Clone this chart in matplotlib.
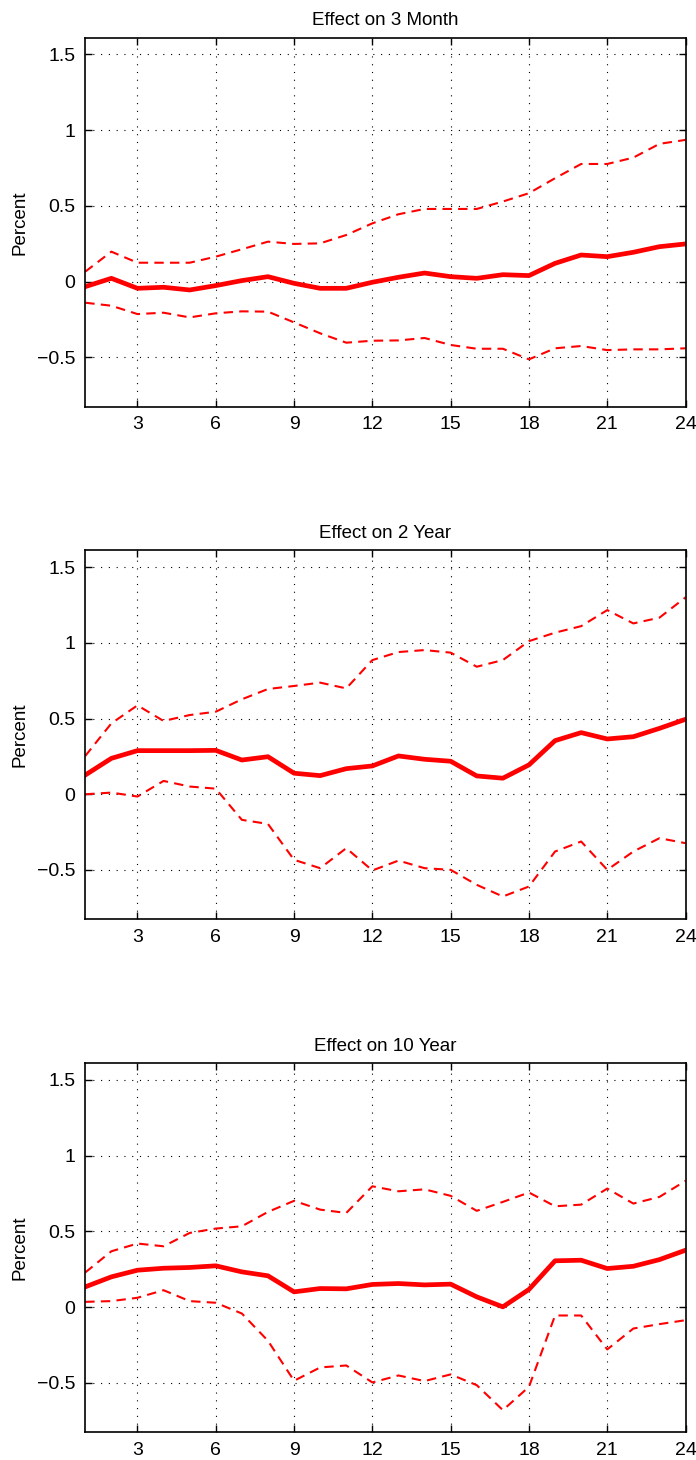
import matplotlib
matplotlib.use("Agg")
import matplotlib.pyplot as plt
import numpy as np

plt.rcParams['font.family'] = ['Liberation Sans', 'DejaVu Sans']

## data
horizon = np.arange(1, 25)

titles = ['Effect on 3 Month', 'Effect on 2 Year', 'Effect on 10 Year']

mid_3m = [-0.033, 0.022, -0.044, -0.037, -0.055, -0.026, 0.007, 0.033, -0.011, -0.044,
          -0.044, -0.004, 0.029, 0.057, 0.033, 0.022, 0.046, 0.040, 0.121, 0.176,
          0.165, 0.194, 0.231, 0.249]
up_3m = [0.066, 0.198, 0.125, 0.125, 0.125, 0.165, 0.214, 0.264, 0.249, 0.253,
         0.308, 0.385, 0.445, 0.480, 0.480, 0.480, 0.529, 0.584, 0.683, 0.777,
         0.777, 0.819, 0.910, 0.936]
lo_3m = [-0.139, -0.159, -0.214, -0.205, -0.236, -0.209, -0.196, -0.198, -0.269, -0.341,
         -0.403, -0.390, -0.388, -0.372, -0.418, -0.443, -0.443, -0.513, -0.440, -0.425,
         -0.452, -0.447, -0.447, -0.440]

mid_2y = [0.127, 0.237, 0.288, 0.288, 0.288, 0.290, 0.226, 0.248, 0.139, 0.123,
          0.169, 0.187, 0.253, 0.231, 0.218, 0.121, 0.106, 0.194, 0.354, 0.407,
          0.365, 0.380, 0.435, 0.495]
up_2y = [0.253, 0.468, 0.587, 0.484, 0.523, 0.545, 0.627, 0.695, 0.715, 0.737,
         0.699, 0.886, 0.939, 0.952, 0.935, 0.842, 0.886, 1.011, 1.067, 1.110,
         1.216, 1.128, 1.166, 1.300]
lo_2y = [0.000, 0.011, -0.015, 0.088, 0.051, 0.037, -0.169, -0.196, -0.433, -0.488,
         -0.356, -0.503, -0.438, -0.488, -0.499, -0.598, -0.675, -0.609, -0.378, -0.312,
         -0.499, -0.378, -0.290, -0.323]

mid_10y = [0.134, 0.200, 0.244, 0.257, 0.262, 0.273, 0.233, 0.207, 0.101, 0.123,
           0.121, 0.150, 0.156, 0.147, 0.152, 0.068, 0.002, 0.117, 0.306, 0.310,
           0.255, 0.270, 0.314, 0.376]
up_10y = [0.229, 0.369, 0.420, 0.402, 0.490, 0.519, 0.534, 0.629, 0.702, 0.644,
          0.622, 0.798, 0.765, 0.778, 0.735, 0.636, 0.695, 0.757, 0.666, 0.677,
          0.783, 0.684, 0.728, 0.834]
lo_10y = [0.035, 0.040, 0.062, 0.112, 0.040, 0.029, -0.042, -0.222, -0.486, -0.398,
          -0.385, -0.497, -0.451, -0.488, -0.444, -0.515, -0.680, -0.526, -0.055, -0.055,
          -0.279, -0.141, -0.112, -0.086]

series = [(mid_3m, up_3m, lo_3m), (mid_2y, up_2y, lo_2y), (mid_10y, up_10y, lo_10y)]

## plot
fig = plt.figure(figsize=(6.96, 14.6), dpi=100)
bottoms = [0.7214, 0.3703, 0.019]

for k in range(3):
    ax = fig.add_axes([0.1225, bottoms[k], 0.8625, 0.2527])
    mid, up, lo = series[k]
    ax.plot(horizon, up, color='#ff0000', lw=1.5, dashes=(4.5, 3))
    ax.plot(horizon, lo, color='#ff0000', lw=1.5, dashes=(4.5, 3))
    ax.plot(horizon, mid, color='#ff0000', lw=3.4, solid_joinstyle='round')
    ax.set_xlim(1, 24)
    ax.set_ylim(-0.826, 1.61)
    ax.set_xticks(np.arange(3, 25, 3))
    ax.set_yticks([-0.5, 0, 0.5, 1, 1.5])
    ax.set_yticklabels(['\u22120.5', '0', '0.5', '1', '1.5'])
    ax.grid(True, color='black', linestyle=(0, (1, 6)), linewidth=0.8)
    ax.tick_params(direction='in', top=True, right=True, length=5, width=1, labelsize=14, pad=7)
    for s in ax.spines.values():
        s.set_linewidth(1.2)
    ax.set_title(titles[k], fontsize=13.5, pad=9)
    ax.set_ylabel('Percent', fontsize=13.5, labelpad=6)

fig.savefig('out.png', dpi=100)
